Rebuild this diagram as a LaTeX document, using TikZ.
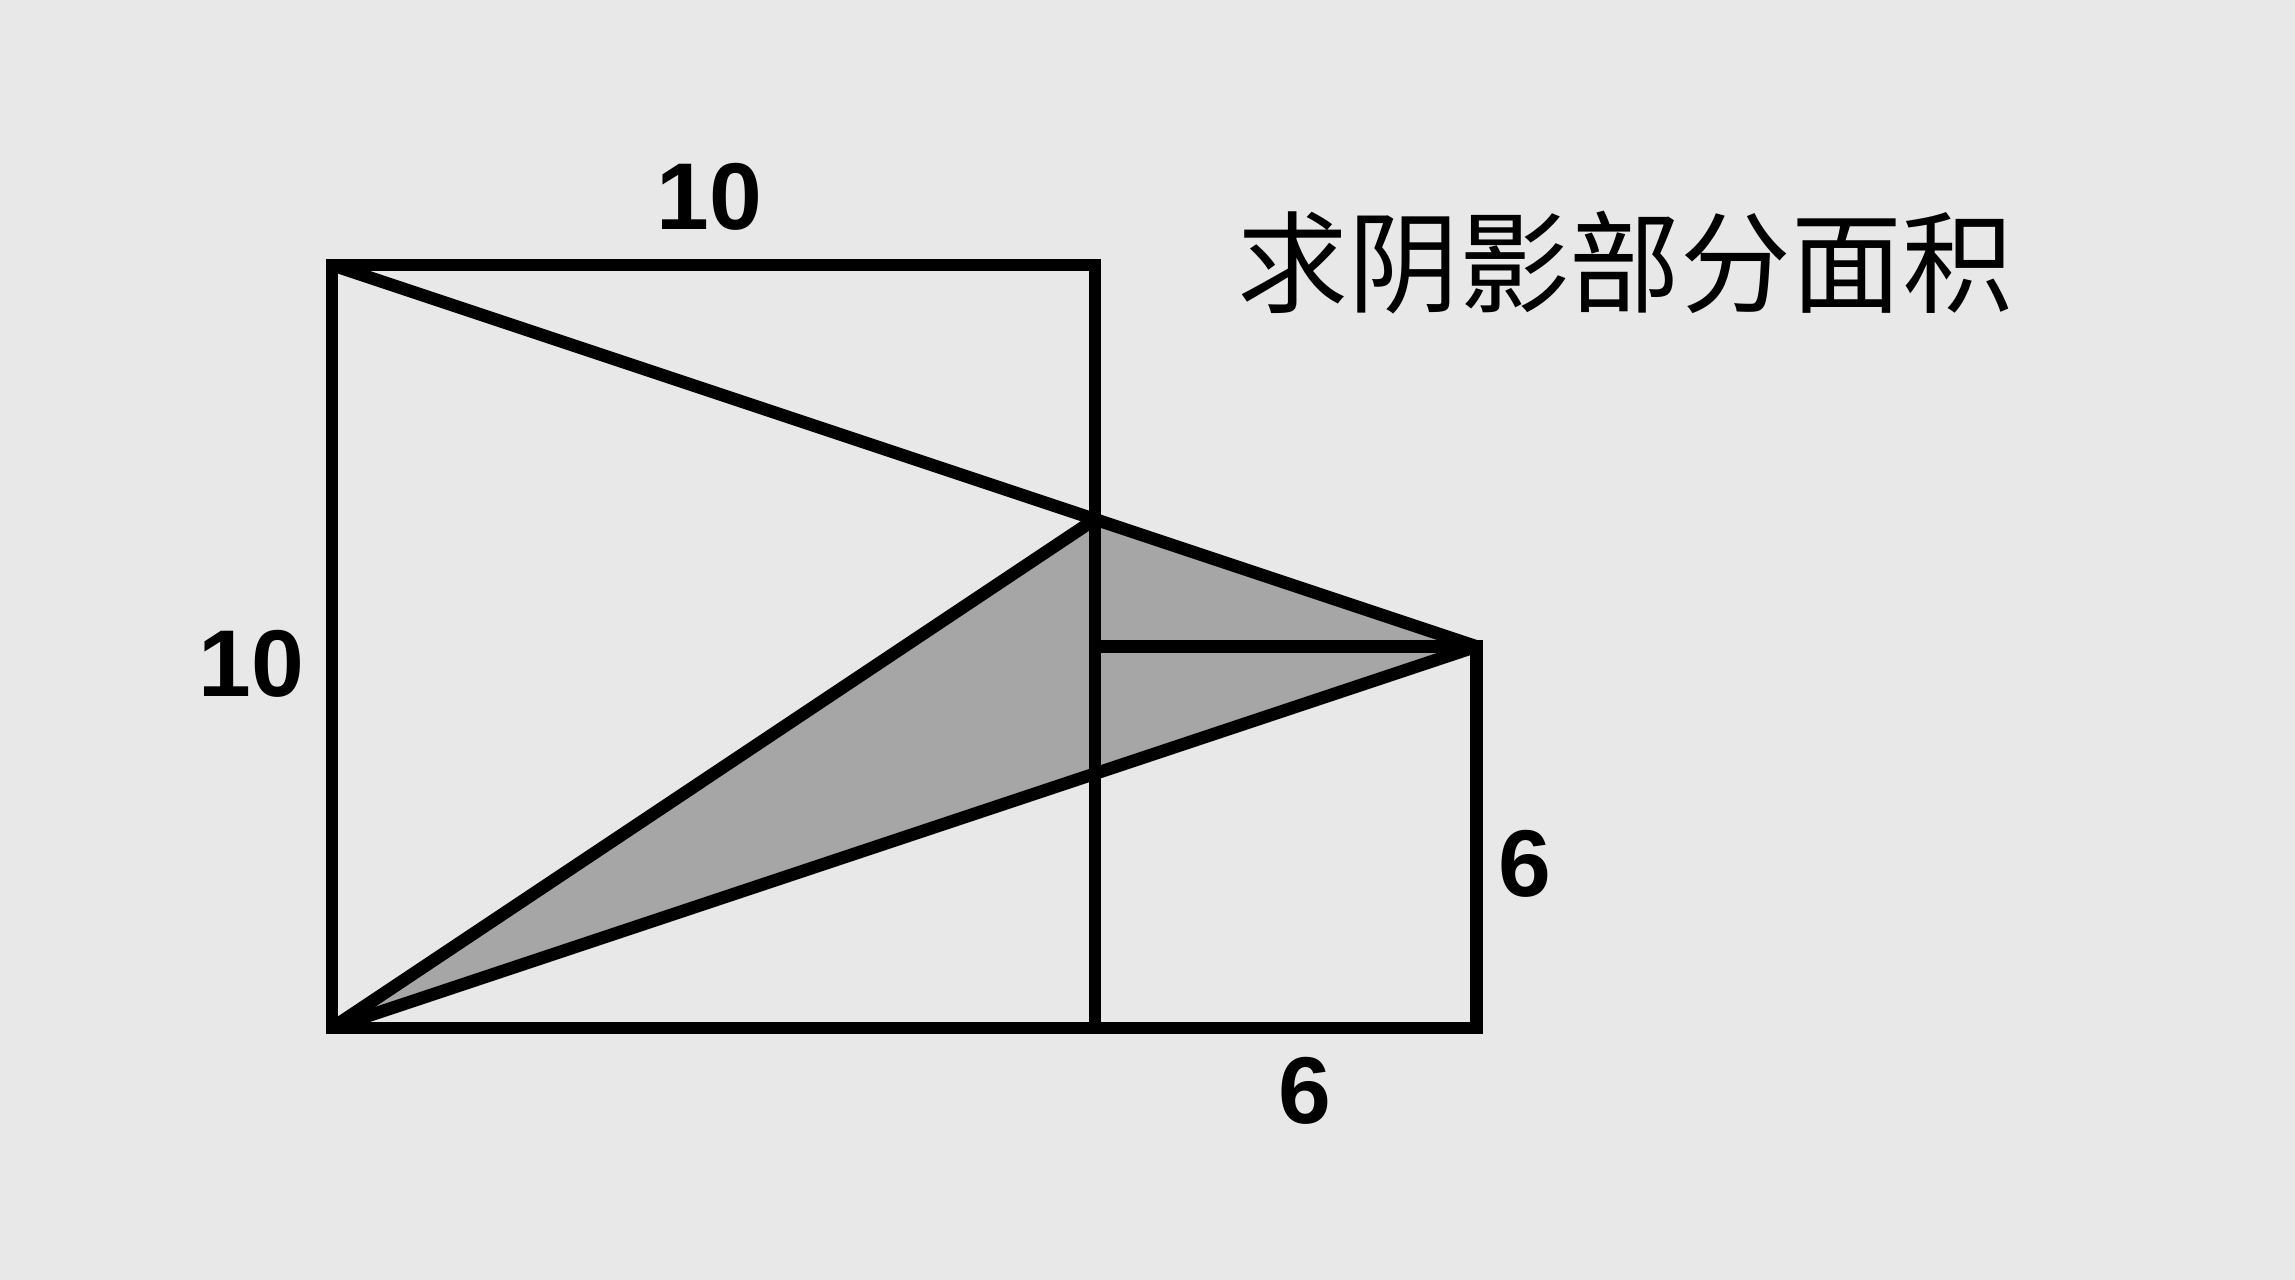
\documentclass[tikz,border=0pt]{standalone}
\usepackage{fontspec}
\usetikzlibrary{calc}
\setmainfont{Liberation Sans}
\newfontfamily\cjk{Noto Sans CJK SC}
\definecolor{bgpaper}{HTML}{E8E8E8}
\definecolor{shadegray}{HTML}{A6A6A6}
\begin{document}
\begin{tikzpicture}[line join=miter, line cap=butt, font=\fontsize{27}{30}\selectfont\bfseries]
        \fill[bgpaper] (0,0) rectangle (22.95,12.80);
        \useasboundingbox (0,0) rectangle (22.95,12.80);
        \begin{scope}[shift={(3.32,2.52)}, scale=0.763]
            \tikzset{edge/.style={line width=3.6pt}}
            \def \bigside{10}
            \def \smallside{5}
            \coordinate (A) at (0,0);
            \coordinate (B) at (\bigside,0);
            \coordinate (C) at (\bigside,\bigside);
            \coordinate (D) at (0,\bigside);
            \coordinate (E) at (\bigside+\smallside,0);
            \coordinate (F) at (\bigside+\smallside,\smallside);
            \coordinate (G) at (\bigside,\smallside);
            \coordinate (P) at ($(D)!2/3!(F)$);
            % shaded part
            \fill[shadegray] (A)--(P)--(F)--cycle;
            \draw[edge] (A)--(B)--(C)--(D)--cycle;
            \draw[edge] (B)--(E)--(F)--(G);
            \draw[edge] (D)--(F);
            \draw[edge] (A)--(F);
            \draw[edge] (A)--(P);
            \node (top) at (4.95,10.89) {10};
            \node (left) at (-1.06,4.77) {10};
            \node (bottom) at (12.75,-0.83) {6};
            \node (right) at (15.64,2.15) {6};
            \node (title) at (16.95,10.03) {\mdseries\cjk\fontsize{31.5}{34}\selectfont 求阴影部分面积};
        \end{scope}
\end{tikzpicture}
\end{document}
